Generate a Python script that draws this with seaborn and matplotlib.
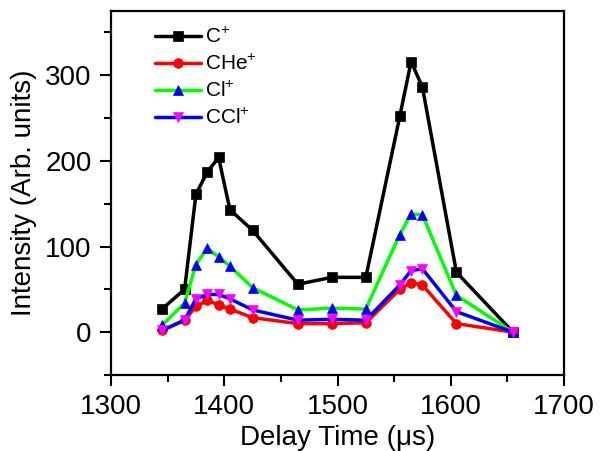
import numpy as np
import pandas as pd
import matplotlib
matplotlib.use("Agg")
import matplotlib.pyplot as plt
from matplotlib.ticker import MultipleLocator
import seaborn as sns

# ---- data ----
delay = [1345, 1365, 1375, 1385, 1395, 1405, 1425, 1465, 1495, 1525, 1555, 1565, 1575, 1605, 1655]
c_plus = [27, 50, 161, 187, 204, 143, 119, 56, 64, 64, 252, 316, 286, 70, 0]
che_plus = [2, 14, 30, 37, 32, 27, 17, 10, 10, 11, 50, 58, 55, 10, 0]
cl_plus = [8, 34, 79, 98, 88, 77, 52, 26, 28, 27, 114, 138, 137, 43, 0]
ccl_plus = [2, 14, 39, 44, 44, 39, 26, 14, 15, 14, 55, 72, 74, 24, 0]
labels = ["C$^{+}$", "CHe$^{+}$", "Cl$^{+}$", "CCl$^{+}$"]

sns.set_theme(style="ticks")
plt.rcParams["font.family"] = ["Liberation Sans", "DejaVu Sans"]
plt.rcParams["mathtext.fontset"] = "custom"
plt.rcParams["mathtext.rm"] = "Liberation Sans"
plt.rcParams["mathtext.it"] = "Liberation Sans"
plt.rcParams["mathtext.bf"] = "Liberation Sans"
for k in ["text.color", "axes.labelcolor", "xtick.color", "ytick.color", "axes.edgecolor"]:
    plt.rcParams[k] = "black"

fig = plt.figure(figsize=(6.07, 4.51), dpi=100)
ax = fig.add_axes([111 / 607, 1 - 375 / 451, (564 - 111) / 607, (375 - 11) / 451])

series = [c_plus, che_plus, cl_plus, ccl_plus]
line_colors = ["black", "#ff0000", "#00ff00", "#0000ff"]
markers = ["s", "o", "^", "v"]
marker_colors = ["black", "#ff0000", "#0000ff", "#ff00ff"]

for vals, lab, lc, mk, mc in zip(series, labels, line_colors, markers, marker_colors):
    df = pd.DataFrame({"delay": delay, "intensity": vals})
    sns.lineplot(data=df, x="delay", y="intensity", ax=ax, color=lc, lw=2.5,
                 marker=mk, markersize=7, markerfacecolor=mc, markeredgecolor=mc,
                 markeredgewidth=0.5, label=lab)

ax.set_xlim(1300, 1700)
ax.set_ylim(-50, 375)
ax.xaxis.set_major_locator(MultipleLocator(100))
ax.xaxis.set_minor_locator(MultipleLocator(50))
ax.yaxis.set_major_locator(MultipleLocator(100))
ax.yaxis.set_minor_locator(MultipleLocator(50))
ax.tick_params(which="major", direction="out", length=8, width=1.5, labelsize=20, pad=6,
               top=False, right=False, colors="black")
ax.tick_params(which="minor", direction="out", length=5, width=1.5, top=False, right=False,
               colors="black")
for sp in ax.spines.values():
    sp.set_linewidth(1.6)
    sp.set_color("black")

ax.set_xlabel("Delay Time (\u03bcs)", fontsize=20, labelpad=3, color="black")
ax.set_ylabel("Intensity (Arb. units)", fontsize=20, labelpad=6, color="black")

leg = ax.legend(loc="upper left", bbox_to_anchor=((155 - 111) / 453, 1 - (27 - 11) / 364),
                frameon=False, fontsize=15, handlelength=2.2, handletextpad=0.2,
                labelspacing=0.33, borderpad=0, borderaxespad=0)
for t in leg.get_texts():
    t.set_color("black")

fig.savefig("out.png", dpi=100)
